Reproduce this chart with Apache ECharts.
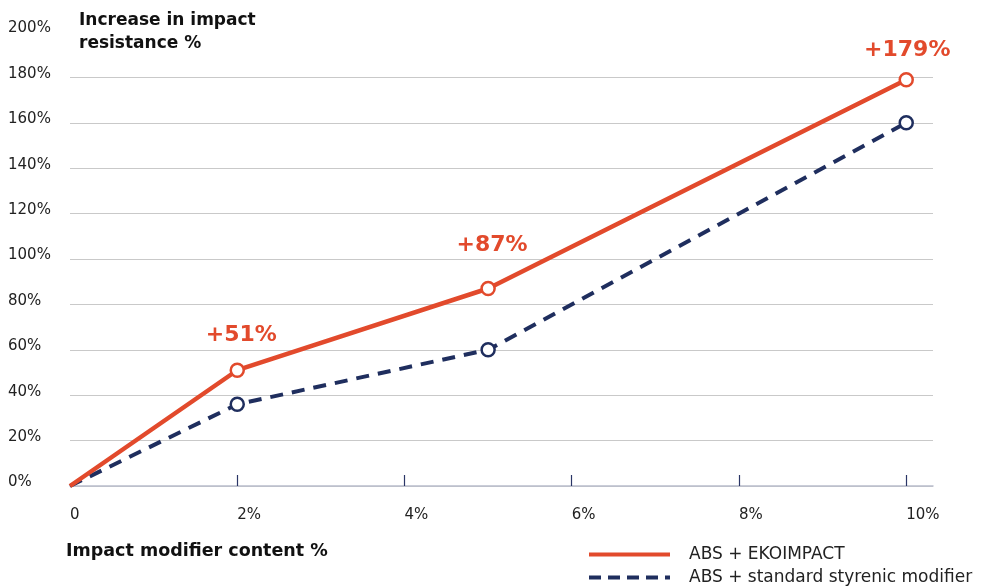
<!DOCTYPE html>
<html>
<head>
<meta charset="utf-8">
<style>
  html, body { margin: 0; padding: 0; background: #ffffff; }
  #chart { width: 995px; height: 588px; }
</style>
<script src="https://cdn.jsdelivr.net/npm/echarts@6/dist/echarts.min.js"></script>
</head>
<body>
<div id="chart"></div>
<script>
// Impact modifier content (%) on the x axis
const modifierContent = [0, 2, 5, 10];
// Increase in impact resistance (%) for each formulation
const ekoimpact = [0, 51, 87, 179];
const standardModifier = [0, 36, 60, 160];
// Axis tick values
const xTickValues = [2, 4, 6, 8, 10];
const xLabelValues = [0, 2, 4, 6, 8, 10];
const seriesNames = ['ABS + EKOIMPACT', 'ABS + standard styrenic modifier'];
const yAxisTitle = 'Increase in impact\nresistance %';
const xAxisTitle = 'Impact modifier content %';

const RED = '#e24a2c';
const NAVY = '#1f2e5e';
const FONT = '"DejaVu Sans", sans-serif';

// per-point label offsets for the EKOIMPACT callouts
const labelOffsets = [null, [4, -8], [4, -16], [1, -3]];

function pairs(xs, ys) { return xs.map((x, i) => [x, ys[i]]); }

const redData = pairs(modifierContent, ekoimpact).map((p, i) => {
  if (i === 0) return { value: p, symbolSize: 0, label: { show: false } };
  return { value: p, label: { show: true, offset: labelOffsets[i] } };
});
const navyData = pairs(modifierContent, standardModifier).map((p, i) =>
  i === 0 ? { value: p, symbolSize: 0 } : { value: p });

const chart = echarts.init(document.getElementById('chart'), null, { renderer: 'canvas' });
chart.setOption({
  animation: false,
  backgroundColor: '#ffffff',
  textStyle: { fontFamily: FONT },
  title: [
    {
      text: yAxisTitle,
      left: 79, top: 9, padding: 0,
      textStyle: { fontSize: 17, fontWeight: 'bold', color: '#111111', fontFamily: FONT, lineHeight: 23 }
    },
    {
      text: xAxisTitle,
      left: 66, top: 542, padding: 0,
      textStyle: { fontSize: 17.5, fontWeight: 'bold', color: '#111111', fontFamily: FONT }
    }
  ],
  grid: { left: 70, right: 62, top: 32, bottom: 102, containLabel: false },
  xAxis: {
    type: 'value',
    min: 0,
    max: 10.32,
    splitLine: { show: false },
    axisLine: { show: true, lineStyle: { color: '#b9bdcc', width: 1.5 } },
    axisTick: {
      show: true, inside: true, length: 11,
      customValues: xTickValues,
      lineStyle: { color: '#2a3566', width: 1.2 }
    },
    axisLabel: {
      customValues: xLabelValues,
      align: 'left',
      margin: 22,
      fontSize: 15,
      color: '#222222',
      fontFamily: FONT,
      formatter: v => (v === 0 ? '0' : v + '%')
    }
  },
  yAxis: {
    type: 'value',
    min: 0,
    max: 200,
    interval: 20,
    axisLine: { show: false },
    axisTick: { show: false },
    splitLine: { show: true, showMaxLine: false, lineStyle: { color: '#c9c9c9', width: 1.2 } },
    axisLabel: {
      align: 'left',
      verticalAlign: 'bottom',
      lineHeight: 7,
      margin: 62,
      fontSize: 15,
      color: '#222222',
      fontFamily: FONT,
      formatter: '{value}%'
    }
  },
  legend: {
    left: 587,
    top: 546,
    orient: 'vertical',
    itemWidth: 81,
    itemHeight: 4,
    itemGap: 6,
    padding: 0,
    itemStyle: { opacity: 0 },
    lineStyle: { width: 4 },
    textStyle: { fontSize: 17, color: '#222222', fontFamily: FONT, padding: [0, 0, 0, 14] },
    data: [
      { name: seriesNames[0] },
      { name: seriesNames[1], lineStyle: { type: [12, 7], width: 4 } }
    ]
  },
  series: [
    {
      name: seriesNames[1],
      type: 'line',
      data: navyData,
      symbol: 'circle',
      symbolSize: 13,
      showAllSymbol: true,
      z: 2,
      lineStyle: { color: NAVY, width: 4, type: [13, 9] },
      itemStyle: { color: '#ffffff', borderColor: NAVY, borderWidth: 2.5 },
      emphasis: { disabled: true }
    },
    {
      name: seriesNames[0],
      type: 'line',
      data: redData,
      symbol: 'circle',
      symbolSize: 13,
      showAllSymbol: true,
      z: 3,
      lineStyle: { color: RED, width: 4.5 },
      itemStyle: { color: '#ffffff', borderColor: RED, borderWidth: 2.5 },
      label: {
        position: 'top',
        distance: 8,
        color: RED,
        fontSize: 22,
        fontWeight: 'bold',
        fontFamily: FONT,
        formatter: p => '+' + p.value[1] + '%'
      },
      emphasis: { disabled: true }
    }
  ]
});
</script>
</body>
</html>
